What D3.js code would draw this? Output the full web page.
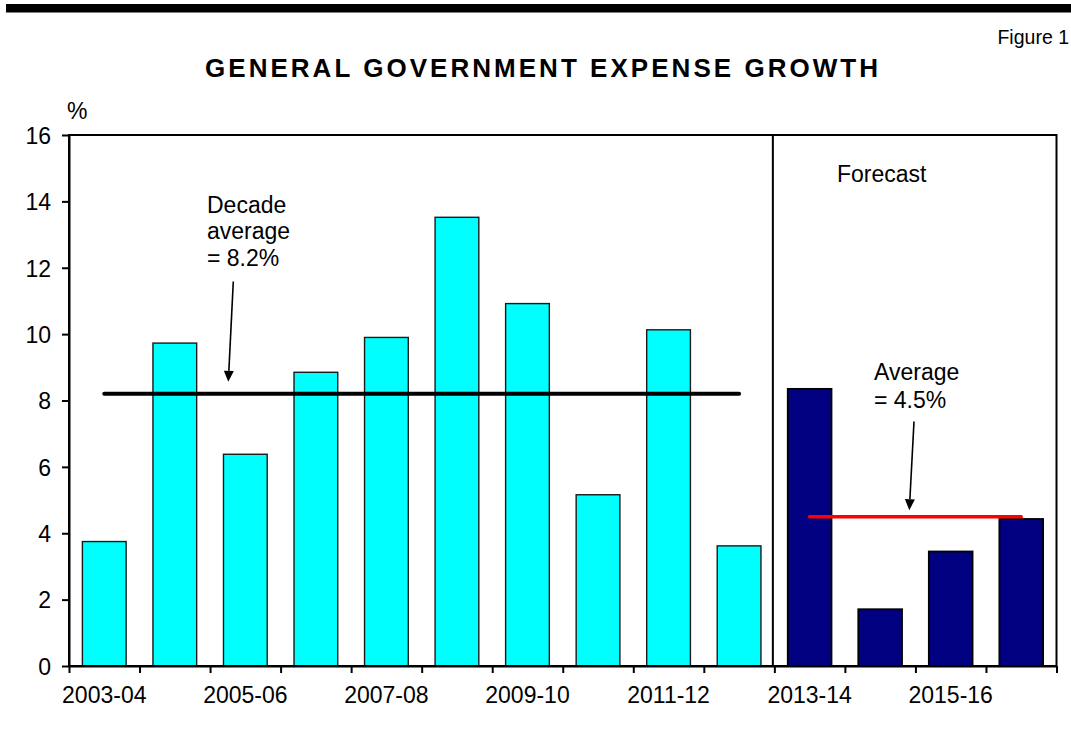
<!DOCTYPE html>
<html>
<head>
<meta charset="utf-8">
<script src="https://cdn.jsdelivr.net/npm/d3@7"></script>
<style>
  html, body { margin: 0; padding: 0; background: #ffffff; }
  svg { display: block; font-family: "Liberation Sans", Arial, sans-serif; }
</style>
</head>
<body>
<svg id="chart" width="1071" height="753"></svg>
<script>
// Financial years shown on the category axis
const categories = ["2003-04", "2004-05", "2005-06", "2006-07", "2007-08",
                    "2008-09", "2009-10", "2010-11", "2011-12", "2012-13",
                    "2013-14", "2014-15", "2015-16", "2016-17"];

// Annual growth in general government expense, per cent
const actualYears   = categories.slice(0, 10);
const actualGrowth  = [3.75, 9.73, 6.38, 8.85, 9.90, 13.52, 10.92, 5.16, 10.13, 3.62];
const forecastYears = categories.slice(10);
const forecastGrowth = [8.35, 1.71, 3.45, 4.43];

// Period averages
const decadeAverage = 8.2;
const forecastAverage = 4.5;

// Axis ticks
const yTicks = [0, 2, 4, 6, 8, 10, 12, 14, 16];
const xLabelYears = ["2003-04", "2005-06", "2007-08", "2009-10", "2011-12", "2013-14", "2015-16"];

const svg = d3.select("#chart");
const W = 1071, H = 753;
const plot = { left: 69, right: 1056.5, top: 135, bottom: 666 };

svg.append("rect").attr("width", W).attr("height", H).attr("fill", "#ffffff");

// Heavy rule across the top of the page
svg.append("rect")
  .attr("x", 6).attr("y", 4).attr("width", W - 6).attr("height", 8.5)
  .attr("fill", "#000000");

svg.append("text")
  .attr("x", 1069).attr("y", 43.5)
  .attr("text-anchor", "end")
  .attr("font-size", 19.5)
  .text("Figure 1");

svg.append("text")
  .attr("x", 205).attr("y", 77)
  .attr("font-size", 26)
  .attr("font-weight", "bold")
  .attr("textLength", 673)
  .attr("lengthAdjust", "spacing")
  .text("GENERAL GOVERNMENT EXPENSE GROWTH");

svg.append("text")
  .attr("x", 67).attr("y", 119)
  .attr("font-size", 23)
  .text("%");

// Scales
const x = d3.scaleBand()
  .domain(categories)
  .range([plot.left, plot.right])
  .paddingInner(0.38)
  .paddingOuter(0.19);

const xEdge = d3.scaleLinear()
  .domain([0, categories.length])
  .range([plot.left, plot.right]);

const y = d3.scaleLinear()
  .domain([0, 16])
  .range([plot.bottom, plot.top]);

const center = d => x(d) + x.bandwidth() / 2;

// Bars: outturn years
svg.append("g")
  .selectAll("rect")
  .data(actualYears.map((c, i) => ({ c, v: actualGrowth[i] })))
  .join("rect")
  .attr("x", d => x(d.c))
  .attr("y", d => y(d.v))
  .attr("width", x.bandwidth())
  .attr("height", d => y(0) - y(d.v))
  .attr("fill", "#00ffff")
  .attr("stroke", "#1a1a1a")
  .attr("stroke-width", 1.4);

// Bars: forecast years
svg.append("g")
  .selectAll("rect")
  .data(forecastYears.map((c, i) => ({ c, v: forecastGrowth[i] })))
  .join("rect")
  .attr("x", d => x(d.c))
  .attr("y", d => y(d.v))
  .attr("width", x.bandwidth())
  .attr("height", d => y(0) - y(d.v))
  .attr("fill", "#000080")
  .attr("stroke", "#000000")
  .attr("stroke-width", 1.8);

// Average lines
svg.append("line")
  .attr("x1", center(actualYears[0])).attr("x2", center(actualYears[actualYears.length - 1]))
  .attr("y1", y(decadeAverage)).attr("y2", y(decadeAverage))
  .attr("stroke", "#000000").attr("stroke-width", 4).attr("stroke-linecap", "round");

svg.append("line")
  .attr("x1", center(forecastYears[0])).attr("x2", center(forecastYears[forecastYears.length - 1]))
  .attr("y1", y(forecastAverage)).attr("y2", y(forecastAverage))
  .attr("stroke", "#ff0000").attr("stroke-width", 3.5).attr("stroke-linecap", "round");

// Divider between outturn and forecast years
svg.append("line")
  .attr("x1", xEdge(actualYears.length) - 1.5).attr("x2", xEdge(actualYears.length) - 1.5)
  .attr("y1", plot.top).attr("y2", plot.bottom)
  .attr("stroke", "#000000").attr("stroke-width", 2);

// Plot frame
svg.append("rect")
  .attr("x", plot.left).attr("y", plot.top)
  .attr("width", plot.right - plot.left).attr("height", plot.bottom - plot.top)
  .attr("fill", "none").attr("stroke", "#000000").attr("stroke-width", 2);

// Y axis
const yAxis = svg.append("g")
  .attr("transform", `translate(${plot.left},0)`)
  .call(d3.axisLeft(y).tickValues(yTicks).tickSize(7).tickSizeOuter(0).tickPadding(11));
yAxis.select(".domain").attr("stroke-width", 2);
yAxis.selectAll(".tick line").attr("stroke-width", 2);
yAxis.selectAll(".tick text")
  .attr("font-size", 23).attr("font-family", "Liberation Sans, Arial, sans-serif")
  .attr("fill", "#000000").attr("dy", "0.36em");

// X axis: tick marks at category boundaries
const xTickAxis = svg.append("g")
  .attr("transform", `translate(0,${plot.bottom})`)
  .call(d3.axisBottom(xEdge).tickValues(d3.range(categories.length + 1))
    .tickFormat("").tickSize(7).tickSizeOuter(0));
xTickAxis.select(".domain").attr("stroke-width", 2);
xTickAxis.selectAll(".tick line").attr("stroke-width", 2);

// X axis: year labels under every second category
const xLabelAxis = svg.append("g")
  .attr("transform", `translate(0,${plot.bottom})`)
  .call(d3.axisBottom(x).tickValues(xLabelYears).tickSize(0));
xLabelAxis.select(".domain").remove();
xLabelAxis.selectAll(".tick text")
  .attr("font-size", 23).attr("font-family", "Liberation Sans, Arial, sans-serif")
  .attr("fill", "#000000").attr("y", 36.5).attr("dy", 0);

// Annotations
function arrow(x1, y1, x2, y2) {
  const ang = Math.atan2(y2 - y1, x2 - x1);
  const len = 11, half = 5;
  const bx = x2 - len * Math.cos(ang), by = y2 - len * Math.sin(ang);
  svg.append("line")
    .attr("x1", x1).attr("y1", y1).attr("x2", bx).attr("y2", by)
    .attr("stroke", "#000000").attr("stroke-width", 1.6);
  svg.append("path")
    .attr("d", `M${x2},${y2}L${bx + half * Math.sin(ang)},${by - half * Math.cos(ang)}` +
               `L${bx - half * Math.sin(ang)},${by + half * Math.cos(ang)}Z`)
    .attr("fill", "#000000");
}

const decadeNote = svg.append("text").attr("font-size", 23).attr("fill", "#000000");
[["Decade", 212.7], ["average", 239.3], ["= 8.2%", 265.7]].forEach(([t, yy]) =>
  decadeNote.append("tspan").attr("x", 207).attr("y", yy).text(t));
arrow(233.3, 281.5, 228.3, y(decadeAverage) - 12);

svg.append("text")
  .attr("x", 837).attr("y", 182.3)
  .attr("font-size", 23)
  .text("Forecast");

const avgNote = svg.append("text").attr("font-size", 23).attr("fill", "#000000");
[["Average", 379.5], ["= 4.5%", 407.5]].forEach(([t, yy]) =>
  avgNote.append("tspan").attr("x", 874).attr("y", yy).text(t));
arrow(914, 421.5, 909.3, y(forecastAverage) - 6.5);
</script>
</body>
</html>
